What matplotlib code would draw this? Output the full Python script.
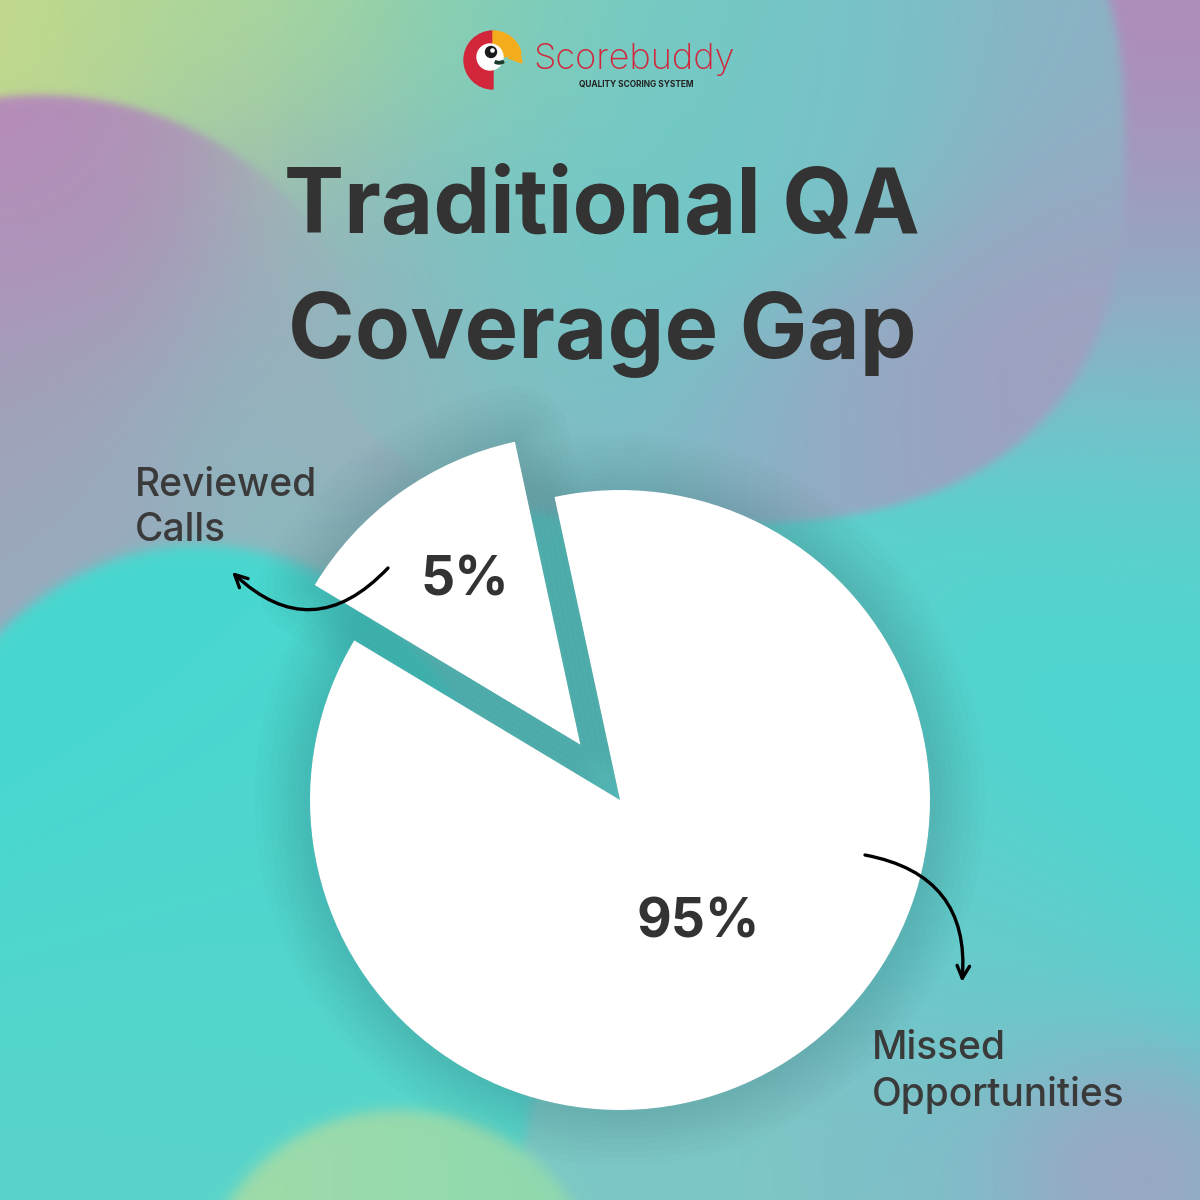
import numpy as np
import matplotlib
matplotlib.use("Agg")
import matplotlib.pyplot as plt
from matplotlib.colors import to_rgb
from matplotlib.patches import Circle, Wedge, Polygon

# data
slice_names = ["Reviewed\nCalls", "Missed\nOpportunities"]
slice_labels = ["5%", "95%"]
slice_sizes = [13, 87]          # drawn share of each wedge as it appears in the picture
title_lines = ["Traditional QA", "Coverage Gap"]

TEXT = "#333333"
BRAND_RED = "#d2263a"
FONT = "Inter"

N = 1200
g = np.arange(N) + 0.5
XX, YY = np.meshgrid(g, g)


def blend(points, sigma):
    acc = np.zeros((N, N, 3))
    wsum = np.zeros((N, N))
    for px, py, c in points:
        w = np.exp(-((XX - px) ** 2 + (YY - py) ** 2) / (2 * sigma ** 2))
        acc += w[..., None] * np.array(to_rgb(c))
        wsum += w
    return acc / wsum[..., None]


def blob_mask(cx, cy, rx, ry, soft, p=2.0):
    r = (np.abs((XX - cx) / rx) ** p + np.abs((YY - cy) / ry) ** p) ** (1.0 / p)
    d = (r - 1.0) * min(rx, ry)
    return 1.0 / (1.0 + np.exp(np.clip(d / soft, -50, 50)))


def paint(img, mask, col):
    return img * (1 - mask[..., None]) + col * mask[..., None]


def make_background():
    img = blend([
        (0, 0, "#c4d88a"), (200, 10, "#b0d898"), (350, 30, "#9cd4a4"), (300, 250, "#96b0bc"),
        (1190, 30, "#b28ab8"), (1190, 200, "#a496bc"), (1190, 330, "#88b8c8"),
        (1180, 520, "#56d4ce"), (1150, 750, "#4cd6d0"), (700, 650, "#5cd0cc"),
        (1000, 950, "#5ed0cc"), (700, 1150, "#7cc8c6"), (950, 1120, "#84bcc8"),
        (1200, 1200, "#50d6d0"), (200, 1180, "#66d0c4"), (60, 560, "#8cb8bc"),
    ], 120)
    # big blob behind the title
    m = blob_mask(700, 150, 425, 375, 2.5, p=2.6) / (1.0 + np.exp(-(XX - 330) / 50))
    col = blend([(250, 20, "#a8d69c"), (450, 20, "#88d0b0"), (620, 20, "#74cac4"),
                 (300, 250, "#96b0bc"), (450, 250, "#7cc4c4"), (600, 250, "#70c8c8"),
                 (850, 100, "#76c4c8"), (1080, 100, "#8cb2c4"), (1090, 300, "#a0a0bf"),
                 (950, 470, "#9ca2c0"), (800, 490, "#90acc4"), (650, 480, "#7cbec6"),
                 (400, 430, "#8cb8be")], 110)
    img = paint(img, m, col)
    # purple wash upper left
    m = blob_mask(40, 420, 340, 325, 2.5) / (1.0 + np.exp((XX - 270) / 45))
    col = blend([(0, 130, "#b88ab8"), (150, 150, "#b08eb8"), (300, 250, "#9eaabc"),
                 (330, 420, "#8cbac0"), (60, 450, "#98aabc"), (0, 300, "#ac96ba")], 110)
    img = paint(img, m, col)
    # bright teal blob on the left
    m = blob_mask(200, 1000, 340, 455, 3)
    col = blend([(60, 700, "#46d8d0"), (300, 900, "#4ed6ce"), (200, 1150, "#5cd4ca")], 180)
    img = paint(img, m, col)
    # yellow-green blob at the bottom
    m = blob_mask(400, 1300, 200, 190, 4)
    col = blend([(300, 1190, "#a2dca8"), (520, 1190, "#8cd8b0")], 150)
    img = paint(img, m, col)
    # purple haze bottom right
    m = 0.8 * blob_mask(1150, 1180, 140, 120, 35)
    img = paint(img, m, np.array(to_rgb("#aa9cc0")))
    return np.clip(img, 0, 1)


fig = plt.figure(figsize=(12, 12), dpi=100)
ax = fig.add_axes([0, 0, 1, 1])
ax.imshow(make_background(), extent=(0, 1200, 0, 1200), origin="upper",
          interpolation="nearest", zorder=0)

center = (620, 400)
radius = 310
explode = [68, 0]
start = 102.2

# soft shadow under the pie
for lw in [80, 70, 60, 50, 41, 33, 25, 17, 9]:
    ax.pie(slice_sizes, explode=explode, startangle=start, center=center, radius=radius,
           colors=["#2b5458"] * 2,
           wedgeprops=dict(linewidth=lw, edgecolor="#2b5458", alpha=0.018, joinstyle="round"))

ax.pie(slice_sizes, explode=explode, startangle=start, center=center, radius=radius,
       colors=["white", "white"], wedgeprops=dict(linewidth=0))

ax.text(465, 1200 - 581, slice_labels[0], ha="center", va="center", fontsize=38.5,
        fontweight="bold", color=TEXT, family=FONT)
ax.text(698, 1200 - 923, slice_labels[1], ha="center", va="center", fontsize=38.5,
        fontweight="bold", color=TEXT, family=FONT)

ax.text(135, 1200 - 508, slice_names[0], ha="left", va="center", fontsize=28,
        color="#3a3a3a", family=FONT, fontweight="medium", linespacing=1.3)
ax.text(872, 1200 - 1072, slice_names[1], ha="left", va="center", fontsize=28,
        color="#3a3a3a", family=FONT, fontweight="medium", linespacing=1.3)

arrow = dict(arrowstyle="->,head_length=0.9,head_width=0.45", lw=2.4, color="black",
             shrinkA=0, shrinkB=0)
ax.annotate("", xy=(232, 1200 - 572), xytext=(388, 1200 - 568),
            arrowprops=dict(arrow, connectionstyle="arc3,rad=-0.5"))
ax.annotate("", xy=(962, 1200 - 982), xytext=(865, 1200 - 855),
            arrowprops=dict(arrow, connectionstyle="arc3,rad=-0.45"))

# title
ax.text(602, 1200 - 208, title_lines[0], ha="center", va="center", fontsize=65,
        fontweight="bold", color=TEXT, family=FONT)
ax.text(602, 1200 - 334, title_lines[1], ha="center", va="center", fontsize=65,
        fontweight="bold", color=TEXT, family=FONT)

# logo
lx, ly = 493, 1200 - 60
ax.add_patch(Wedge((lx, ly), 29, 90, 270, color=BRAND_RED, zorder=5))
ax.add_patch(Wedge((lx, ly), 29, 15, 90, color="#f4ac1c", zorder=5))
ax.add_patch(Polygon([[lx + 27, ly + 8], [lx + 29, ly - 3], [lx + 15, ly + 2]],
                     closed=True, color="#f4ac1c", zorder=5))
ax.add_patch(Circle((lx - 3, ly + 3), 13, color="white", zorder=6))
ax.add_patch(Circle((lx - 2, ly + 8), 5.5, color="#1a1a1a", zorder=8))
ax.add_patch(Circle((lx - 0.5, ly + 9.5), 1.6, color="white", zorder=9))
ax.add_patch(Wedge((lx + 6, ly + 6), 10, 245, 300, width=2.5, color="#1a3a2a", zorder=9))
ax.text(533, 1200 - 60, "Scorebuddy", ha="left", va="center", fontsize=26,
        color=BRAND_RED, family=FONT, fontweight="light")
ax.text(636, 1200 - 84, "QUALITY SCORING SYSTEM", ha="center", va="center", fontsize=6,
        fontweight="bold", color="#222222", family=FONT)

ax.set_xlim(0, 1200)
ax.set_ylim(0, 1200)
ax.set_aspect("auto")
ax.axis("off")
fig.savefig("out.png", dpi=100)
